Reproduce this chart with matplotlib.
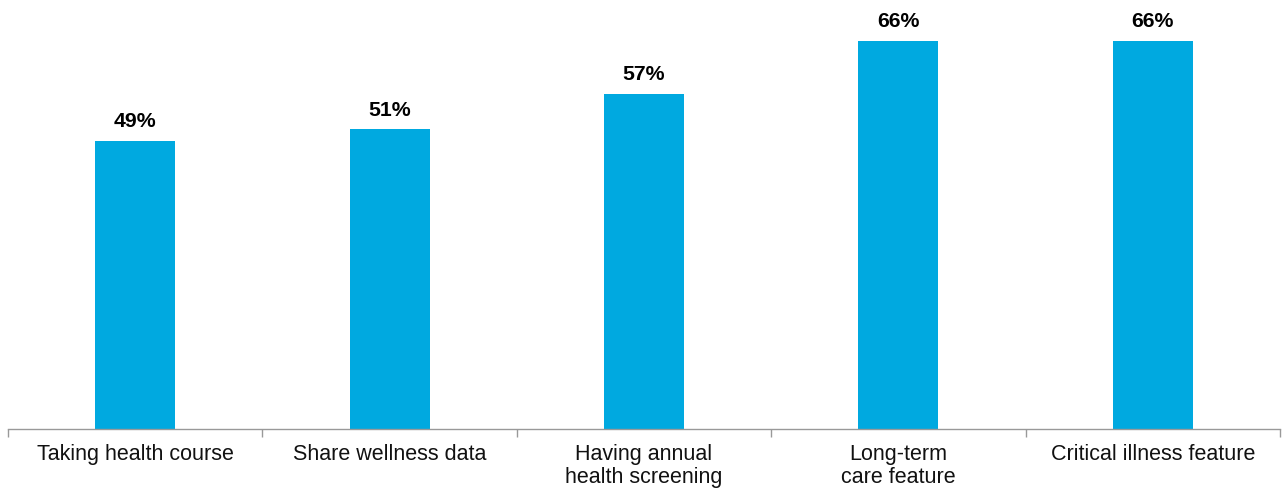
import matplotlib
matplotlib.use("Agg")
import matplotlib.pyplot as plt
import numpy as np

categories = ["Taking health course", "Share wellness data", "Having annual\nhealth screening",
              "Long-term\ncare feature", "Critical illness feature"]
values = [49, 51, 57, 66, 66]
value_labels = ["49%", "51%", "57%", "66%", "66%"]

plt.rcParams['font.family'] = ['Liberation Sans', 'DejaVu Sans']

fig = plt.figure(figsize=(12.84, 4.91), dpi=100)
ax = fig.add_axes([8/1284, (491-429)/491, 1272/1284, 429/491])

x = np.arange(len(categories))
bars = ax.bar(x, values, width=0.315, color="#00A9E0")
for xi, v, lab in zip(x, values, value_labels):
    ax.annotate(lab, (xi, v), xytext=(0, 7), textcoords="offset points",
                ha="center", va="bottom", fontsize=15.3, fontweight="bold", color="black")

ax.set_xlim(-0.5, len(categories) - 0.5)
ax.set_ylim(0, 73)
for s in ["top", "right", "left"]:
    ax.spines[s].set_visible(False)
ax.spines["bottom"].set_color("#999999")
ax.spines["bottom"].set_linewidth(1.0)
ax.set_yticks([])
ax.set_xticks(np.arange(-0.5, len(categories)), minor=False)
ax.set_xticklabels([])
ax.tick_params(axis="x", which="major", length=6, color="#999999", width=1.0)
ax.set_xticks(x, minor=True)
ax.set_xticklabels(categories, minor=True, fontsize=15.5, color="#111111", linespacing=1.08)
ax.tick_params(axis="x", which="minor", length=0, pad=11)

fig.savefig("out.png", dpi=100)
